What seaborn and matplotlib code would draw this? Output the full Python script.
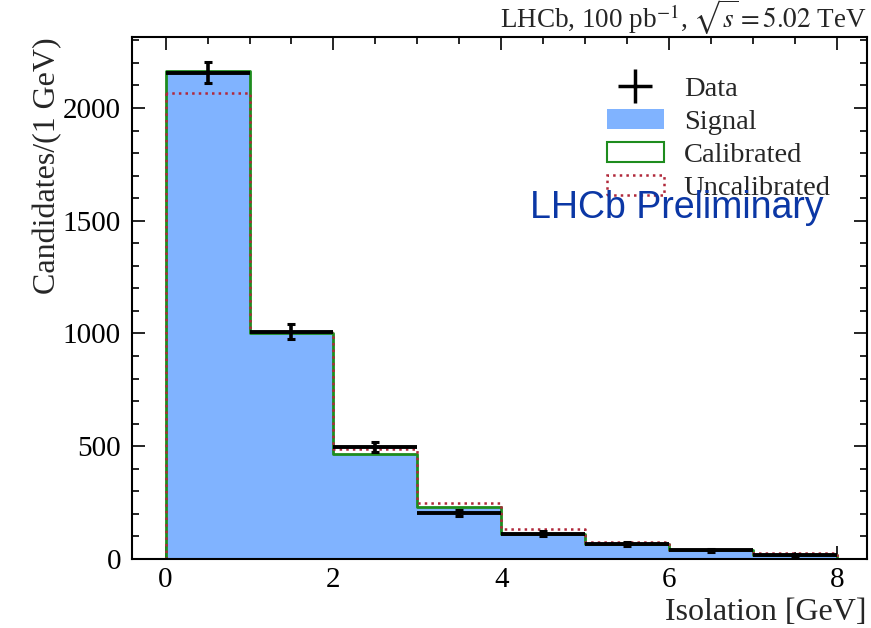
import numpy as np
import pandas as pd
import seaborn as sns
import matplotlib
matplotlib.use("Agg")
import matplotlib.pyplot as plt
from matplotlib.lines import Line2D
from matplotlib.patches import Patch

# ---- data ----
bin_edges = [0, 1, 2, 3, 4, 5, 6, 7, 8]
bin_centers = [0.5, 1.5, 2.5, 3.5, 4.5, 5.5, 6.5, 7.5]
data_counts = [2157, 1008, 498, 203, 113, 66, 38, 17]
data_errors = [46, 32, 22, 14, 11, 8, 6, 4]
bin_half_widths = [0.5, 0.5, 0.5, 0.5, 0.5, 0.5, 0.5, 0.5]
signal_counts = [2162, 1004, 466, 229, 111, 66, 39, 18]
calibrated_counts = [2162, 1004, 466, 229, 111, 66, 39, 18]
uncalibrated_counts = [2066, 1006, 489, 250, 132, 75, 42, 25]

df = pd.DataFrame({
    "iso": bin_centers,
    "signal": signal_counts,
    "calibrated": calibrated_counts,
    "uncalibrated": uncalibrated_counts,
})

sns.set_theme(style="ticks")
plt.rcParams["font.family"] = ["Liberation Serif", "DejaVu Serif"]
plt.rcParams["mathtext.fontset"] = "stix"
plt.rcParams["xtick.direction"] = "in"
plt.rcParams["ytick.direction"] = "in"

blue = "#80b3ff"
green = "#1e8c1e"
red = "#b0283a"

fig = plt.figure(figsize=(8.71, 6.28), dpi=100)
ax = fig.add_axes([0.1516, 0.1099, 0.9954 - 0.1516, 0.9411 - 0.1099])

sns.histplot(data=df, x="iso", weights="signal", bins=bin_edges, element="step",
             fill=True, facecolor=blue, edgecolor="none", linewidth=0, alpha=1,
             ax=ax, zorder=1)
sns.histplot(data=df, x="iso", weights="calibrated", bins=bin_edges, element="step",
             fill=True, facecolor=(1, 1, 1, 0), edgecolor=green, linewidth=2.0,
             ax=ax, zorder=2)
sns.histplot(data=df, x="iso", weights="uncalibrated", bins=bin_edges, element="step",
             fill=True, facecolor=(1, 1, 1, 0), edgecolor=red, linewidth=1.8,
             linestyle=":", ax=ax, zorder=3)

# data: horizontal bin-width bars (no caps) and vertical error bars (small caps)
ax.errorbar(bin_centers, data_counts, xerr=bin_half_widths, fmt="none",
            ecolor="black", elinewidth=2.8, capsize=0, zorder=4)
ax.errorbar(bin_centers, data_counts, yerr=data_errors, fmt="none",
            ecolor="black", elinewidth=2.6, capsize=3, capthick=2.2, zorder=4)

ax.set_xlim(-0.4, 8.36)
ax.set_ylim(0, 2315)
ax.xaxis.set_major_locator(matplotlib.ticker.MultipleLocator(2))
ax.xaxis.set_minor_locator(matplotlib.ticker.MultipleLocator(0.5))
ax.yaxis.set_major_locator(matplotlib.ticker.MultipleLocator(500))
ax.yaxis.set_minor_locator(matplotlib.ticker.MultipleLocator(100))
ax.tick_params(which="both", direction="in", top=True, right=True, colors="black",
               labelsize=21)
ax.tick_params(which="major", length=9.5, width=1.2)
ax.tick_params(which="minor", length=5, width=1.2)
ax.tick_params(axis="x", pad=6)
ax.tick_params(axis="y", pad=8)
for sp in ax.spines.values():
    sp.set_linewidth(1.5)
    sp.set_color("black")
    sp.set_zorder(10)

ax.set_xlabel("Isolation [GeV]", fontsize=23, loc="right")
ax.xaxis.set_label_coords(1.0, -0.075)
ax.set_ylabel("Candidates/(1 GeV)", fontsize=23, loc="top")
ax.yaxis.set_label_coords(-0.095, 1.0)

ax.set_title(r"LHCb, 100 pb$^{-1}$, $\sqrt{s} = 5.02$ TeV", loc="right",
             fontsize=19.5, pad=-0.5)

ax.text(0.541, 0.653, "LHCb Preliminary", transform=ax.transAxes,
        fontsize=27, color="#0b37a5", family=["Liberation Sans", "DejaVu Sans"],
        ha="left", va="baseline", zorder=6)

handles = [
    Line2D([], [], color="black", marker="+", markersize=24, mew=2.5, linestyle="none"),
    Patch(facecolor=blue, edgecolor="none"),
    Patch(facecolor="white", edgecolor=green, linewidth=1.5),
    Patch(facecolor="white", edgecolor=red, linewidth=1.8, linestyle=":"),
]
labels = ["Data", "Signal", "Calibrated", "Uncalibrated"]
ax.legend(handles, labels, loc="upper left", bbox_to_anchor=(0.646, 0.925),
          frameon=False, fontsize=20.5, handlelength=2.0, handleheight=0.7,
          handletextpad=0.7, labelspacing=0.25, borderpad=0, borderaxespad=0)

fig.savefig("out.png", dpi=100)
